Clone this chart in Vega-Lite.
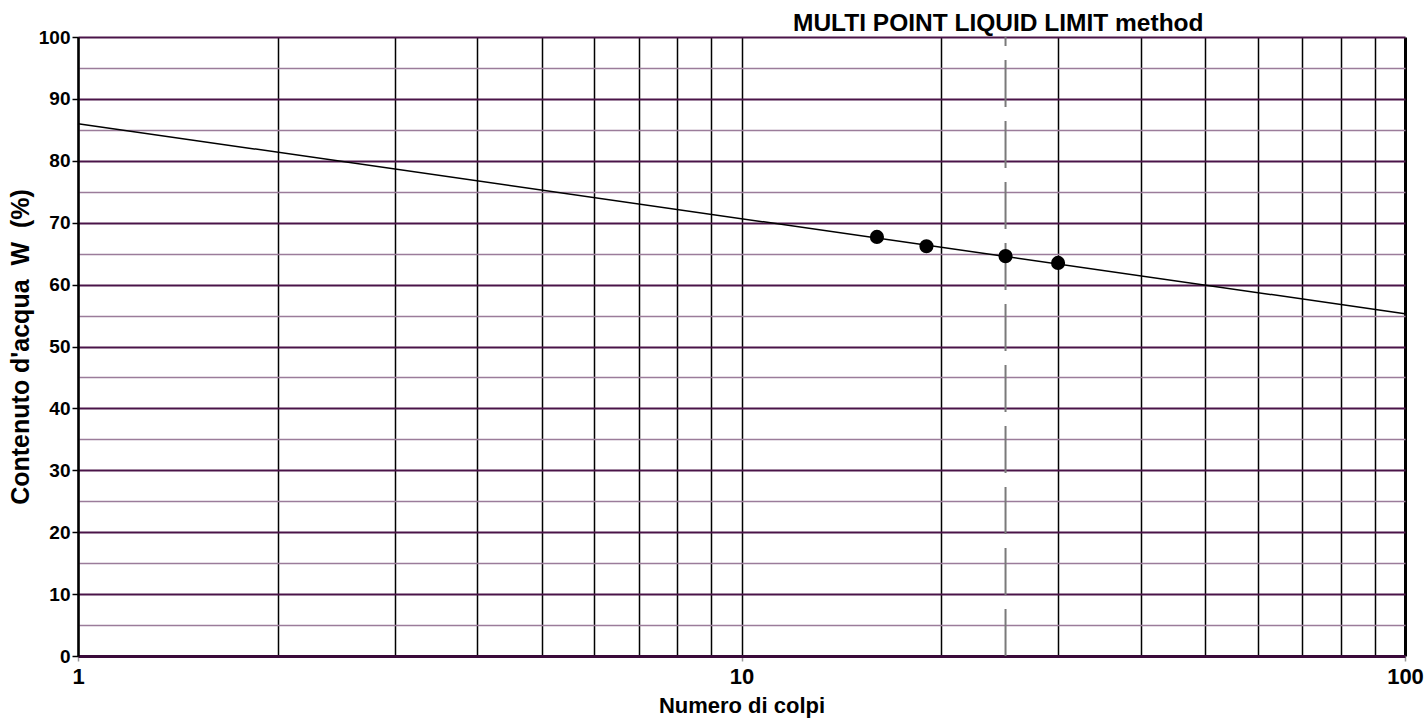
{
  "$schema": "https://vega.github.io/schema/vega-lite/v6.json",
  "autosize": "none",
  "width": 1327,
  "height": 619,
  "padding": {"left": 78, "top": 37, "right": 21, "bottom": 62},
  "background": "white",
  "title": {
    "text": "MULTI POINT LIQUID LIMIT method",
    "frame": "group",
    "anchor": "start",
    "dx": 715,
    "dy": 33,
    "offset": 6,
    "baseline": "alphabetic",
    "font": "Liberation Sans",
    "fontSize": 24.5,
    "fontWeight": "bold",
    "color": "#000000"
  },
  "datasets": {
    "points": [
      {"colpi": 16, "w": 67.7},
      {"colpi": 19, "w": 66.2},
      {"colpi": 25, "w": 64.6},
      {"colpi": 30, "w": 63.5}
    ],
    "fit": [
      {"colpi": 1, "w": 86.0},
      {"colpi": 100, "w": 55.3}
    ],
    "ll": [
      {"colpi": 25, "w": 0, "w2": 100}
    ]
  },
  "encoding": {
    "x": {
      "field": "colpi",
      "type": "quantitative",
      "scale": {"type": "log", "domain": [1, 100], "nice": false},
      "axis": {
        "title": "Numero di colpi",
        "values": [1, 2, 3, 4, 5, 6, 7, 8, 9, 10, 20, 30, 40, 50, 60, 70, 80, 90, 100],
        "labelExpr": "(datum.value == 1 || datum.value == 10 || datum.value == 100) ? ('' + datum.value) : ''",
        "labelOverlap": false,
        "labelBound": false,
        "labelFlush": false,
        "labelFont": "Liberation Sans",
        "labelFontSize": 22,
        "labelFontWeight": "bold",
        "labelColor": "#000000",
        "labelPadding": 5,
        "grid": true,
        "gridColor": "#000000",
        "gridWidth": {"condition": {"test": "datum.value == 100", "value": 3}, "value": 1.5},
        "gridOpacity": 1,
        "ticks": true,
        "tickSize": 5,
        "tickColor": {"condition": {"test": "datum.value == 1 || datum.value == 10 || datum.value == 100", "value": "#9a9a9a"}, "value": "transparent"},
        "tickWidth": 1.5,
        "domainColor": "#3a0a3a",
        "domainWidth": 3,
        "titleFont": "Liberation Sans",
        "titleFontSize": 22,
        "titleFontWeight": "bold",
        "titleColor": "#000000",
        "titlePadding": 8
      }
    },
    "y": {
      "field": "w",
      "type": "quantitative",
      "scale": {"domain": [0, 100], "nice": false, "zero": true},
      "axis": {
        "title": "Contenuto d'acqua\u00a0\u00a0W\u00a0\u00a0(%)",
        "values": [0, 5, 10, 15, 20, 25, 30, 35, 40, 45, 50, 55, 60, 65, 70, 75, 80, 85, 90, 95, 100],
        "labelExpr": "datum.value % 10 === 0 ? ('' + datum.value) : ''",
        "labelOverlap": false,
        "labelBound": false,
        "labelFlush": false,
        "labelFont": "Liberation Sans",
        "labelFontSize": 19,
        "labelFontWeight": "bold",
        "labelColor": "#000000",
        "labelPadding": 2,
        "grid": true,
        "gridColor": {"condition": {"test": "datum.value % 10 === 0", "value": "#4a1448"}, "value": "#9b7c9a"},
        "gridWidth": {"condition": {"test": "datum.value % 10 === 0", "value": 2}, "value": 1.5},
        "gridOpacity": 1,
        "ticks": true,
        "tickSize": 6,
        "tickColor": {"condition": {"test": "datum.value % 10 === 0", "value": "#000000"}, "value": "transparent"},
        "tickWidth": 1.5,
        "domainColor": "#000000",
        "domainWidth": 2.5,
        "titleFont": "Liberation Sans",
        "titleFontSize": 25,
        "titleFontWeight": "bold",
        "titleColor": "#000000",
        "titlePadding": 5
      }
    }
  },
  "layer": [
    {
      "data": {"name": "ll"},
      "mark": {"type": "rule", "color": "#7a7a7a", "strokeWidth": 2, "strokeDash": [47, 14]},
      "encoding": {
        "y2": {"field": "w2"}
      }
    },
    {
      "data": {"name": "fit"},
      "mark": {"type": "line", "color": "#000000", "strokeWidth": 1.5},
      "encoding": {}
    },
    {
      "data": {"name": "points"},
      "mark": {"type": "point", "filled": true, "color": "#000000", "size": 200, "opacity": 1},
      "encoding": {}
    }
  ],
  "config": {
    "view": {"stroke": null},
    "font": "Liberation Sans"
  }
}
